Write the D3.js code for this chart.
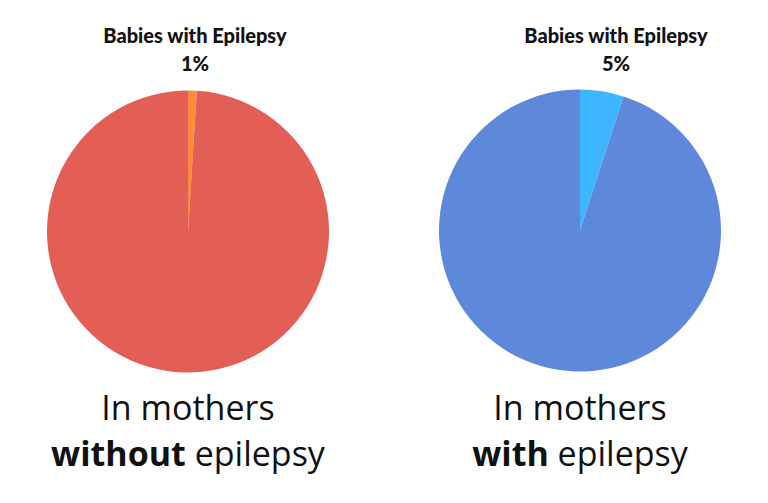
<!DOCTYPE html>
<html><head><meta charset="utf-8">
<script src="https://cdn.jsdelivr.net/npm/d3@7"></script>
<style>html,body{margin:0;padding:0;background:#fff;}svg{display:block;}</style>
</head><body>
<svg id="c" width="768" height="503"></svg>
<script>
const pieNames = ["without", "with"];
const categories = ["Babies with Epilepsy", "Other babies"];
const valuesWithout = [1, 99];
const valuesWith = [5, 95];
const percentLabels = ["1%", "5%"];
const bottomLine1 = ["In mothers", "In mothers"];
const bottomBold = ["without", "with"];
const bottomRest = [" epilepsy", " epilepsy"];
const colorsWithout = ["#FF8C3B", "#E35F56"];
const colorsWith = ["#3DB5FF", "#5E88D9"];

const svg = d3.select("#c");
const pies = [
  {vals: valuesWithout, colors: colorsWithout, cx: 188, cy: 231.5, lx: 195},
  {vals: valuesWith, colors: colorsWith, cx: 580, cy: 230.5, lx: 616}
];
const r = 141;
const pie = d3.pie().sort(null).value(d => d);
const arc = d3.arc().innerRadius(0).outerRadius(r);

pies.forEach((p, i) => {
  const g = svg.append("g").attr("transform", `translate(${p.cx},${p.cy})`);
  g.selectAll("path").data(pie(p.vals)).enter().append("path")
    .attr("d", arc).attr("fill", (d, j) => p.colors[j]);
  svg.append("text").attr("x", p.lx).attr("y", 43).attr("text-anchor", "middle")
    .attr("font-family", "Lato").attr("font-weight", "900").attr("font-size", 20)
    .attr("fill", "#111").text(categories[0]);
  svg.append("text").attr("x", p.lx).attr("y", 71).attr("text-anchor", "middle")
    .attr("font-family", "Lato").attr("font-weight", "900").attr("font-size", 20)
    .attr("fill", "#111").text(percentLabels[i]);
  svg.append("text").attr("x", p.cx).attr("y", 420).attr("text-anchor", "middle")
    .attr("font-family", "Open Sans").attr("font-size", 34).attr("fill", "#111")
    .text(bottomLine1[i]);
  const t = svg.append("text").attr("x", p.cx).attr("y", 466).attr("text-anchor", "middle")
    .attr("font-family", "Open Sans").attr("font-size", 34).attr("fill", "#111");
  t.append("tspan").attr("font-weight", "bold").text(bottomBold[i]);
  t.append("tspan").style("white-space", "pre").text(bottomRest[i]);
});
</script>
</body></html>
